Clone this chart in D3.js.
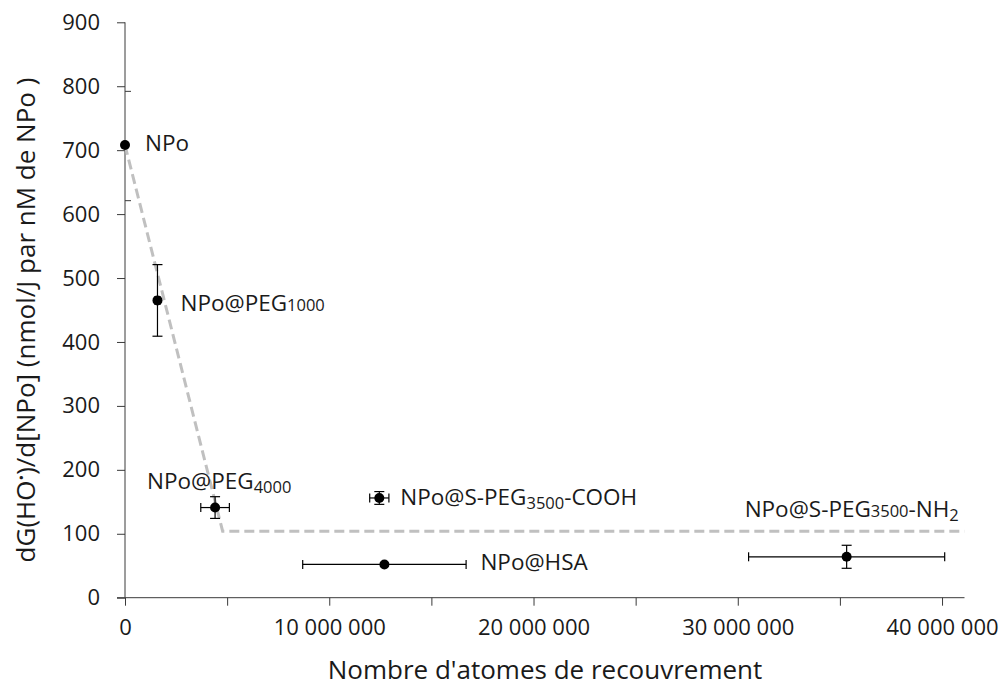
<!DOCTYPE html>
<html>
<head>
<meta charset="utf-8">
<script src="https://cdn.jsdelivr.net/npm/d3@7"></script>
<style>
  html, body { margin: 0; padding: 0; background: #fff; }
  svg { display: block; }
  text { font-family: "Open Sans", "Noto Sans", sans-serif; fill: #1a1a1a; }
</style>
</head>
<body>
<svg id="chart" width="1004" height="686"></svg>
<script>
// ---- data ----
const names = ["NPo", "NPo@PEG1000", "NPo@PEG4000", "NPo@S-PEG3500-COOH", "NPo@HSA", "NPo@S-PEG3500-NH2"];
const xValues = [0, 1.59e6, 4.41e6, 12.45e6, 12.7e6, 35.33e6];
const yValues = [708, 465, 141, 156, 52, 64];
const xErrors = [0, 0.12e6, 0.7e6, 0.47e6, 4.0e6, 4.8e6];
const yErrors = [0, 56, 17, 10, 0, 18];
const trendX = [0, 4.78e6, 41.1e6];
const trendY = [708, 104, 104];
const yTicks = [0, 100, 200, 300, 400, 500, 600, 700, 800, 900];
const xTicks = [0, 5e6, 10e6, 15e6, 20e6, 25e6, 30e6, 35e6, 40e6];
const xLabelTicks = [0, 10e6, 20e6, 30e6, 40e6];
const yMinorTicks = [792, 621];
const xTitle = "Nombre d'atomes de recouvrement";

// label parts: [text, kind] kind: n normal, s small on baseline, sub subscript
const labelParts = [
  [["NPo", "n"]],
  [["NPo@PEG", "n"], ["1000", "s"]],
  [["NPo@PEG", "n"], ["4000", "sub"]],
  [["NPo@S-PEG", "n"], ["3500", "sub"], ["-COOH", "n"]],
  [["NPo@HSA", "n"]],
  [["NPo@S-PEG", "n"], ["3500", "s"], ["-NH", "n"], ["2", "sub"]]
];
const labelOffsets = [[20, 6], [23, 11], [-68, -19], [21, 7], [96, 6], [-102, -40]];

// ---- scales ----
const svg = d3.select("#chart");
const x = d3.scaleLinear().domain([0, 41.1e6]).range([125, 964.5]);
const y = d3.scaleLinear().domain([0, 900]).range([597.7, 22.3]);

const locale = d3.formatLocale({decimal: ",", thousands: "\u00a0", grouping: [3], currency: ["", ""]});
const fmt = locale.format(",d");

const axisColor = "#3a3a3a";

// ---- y axis ----
const yAxis = svg.append("g").attr("transform", `translate(${x(0)},0)`)
  .call(d3.axisLeft(y).tickValues(yTicks).tickSize(8).tickPadding(17).tickFormat(d3.format("d")));
yAxis.select(".domain").attr("stroke", axisColor).attr("d", `M0,${y(900)}V${y(0)}`);
yAxis.selectAll(".tick line").attr("stroke", axisColor);
yAxis.selectAll(".tick text").style("font-size", "22px").attr("fill", "#1a1a1a").attr("font-family", null);

// small secondary ticks to the right
svg.append("g").selectAll("line").data(yMinorTicks).join("line")
  .attr("x1", x(0)).attr("x2", x(0) + 6)
  .attr("y1", d => y(d)).attr("y2", d => y(d))
  .attr("stroke", axisColor);

// ---- x axis ----
const xAxis = svg.append("g").attr("transform", `translate(0,${y(0)})`)
  .call(d3.axisBottom(x).tickValues(xTicks).tickSize(8).tickPadding(14)
    .tickFormat(d => xLabelTicks.includes(d) ? fmt(d) : ""));
xAxis.select(".domain").attr("stroke", axisColor).attr("d", `M${x(0) - 8},0H${x(41.1e6)}`);
xAxis.selectAll(".tick line").attr("stroke", axisColor);
xAxis.selectAll(".tick text").style("font-size", "22px").attr("fill", "#1a1a1a").attr("font-family", null);

// ---- trend dashed line ----
const trend = trendX.map((d, i) => [d, trendY[i]]);
svg.append("path").datum(trend)
  .attr("d", d3.line().x(d => x(d[0])).y(d => y(d[1])))
  .attr("fill", "none").attr("stroke", "#c0c0c0").attr("stroke-width", 3)
  .attr("stroke-dasharray", "10,5");

// ---- error bars ----
const pts = names.map((n, i) => ({n, x: xValues[i], y: yValues[i], ex: xErrors[i], ey: yErrors[i], i}));
const eb = svg.append("g").attr("stroke", "#000").attr("stroke-width", 1.2);
pts.filter(d => d.ex > 0).forEach(d => {
  const cy = y(d.y), x1 = x(d.x - d.ex), x2 = x(d.x + d.ex);
  eb.append("line").attr("x1", x1).attr("x2", x2).attr("y1", cy).attr("y2", cy);
  eb.append("line").attr("x1", x1).attr("x2", x1).attr("y1", cy - 4.5).attr("y2", cy + 4.5);
  eb.append("line").attr("x1", x2).attr("x2", x2).attr("y1", cy - 4.5).attr("y2", cy + 4.5);
});
pts.filter(d => d.ey > 0).forEach(d => {
  const cx = x(d.x), y1 = y(d.y + d.ey), y2 = y(d.y - d.ey);
  eb.append("line").attr("x1", cx).attr("x2", cx).attr("y1", y1).attr("y2", y2);
  eb.append("line").attr("x1", cx - 5).attr("x2", cx + 5).attr("y1", y1).attr("y2", y1);
  eb.append("line").attr("x1", cx - 5).attr("x2", cx + 5).attr("y1", y2).attr("y2", y2);
});

// ---- points ----
svg.append("g").selectAll("circle").data(pts).join("circle")
  .attr("cx", d => x(d.x)).attr("cy", d => y(d.y)).attr("r", 5).attr("fill", "#000");

// ---- labels ----
const lab = svg.append("g");
pts.forEach(d => {
  const t = lab.append("text")
    .attr("x", x(d.x) + labelOffsets[d.i][0])
    .attr("y", y(d.y) + labelOffsets[d.i][1])
    .style("font-size", "22.5px");
  labelParts[d.i].forEach(([s, k]) => {
    const ts = t.append("tspan").text(s);
    if (k === "s") ts.style("font-size", "16.5px");
    if (k === "sub") ts.style("font-size", "16.5px").attr("baseline-shift", "-4");
  });
});

// ---- axis titles ----
svg.append("text").attr("x", 545).attr("y", 679).attr("text-anchor", "middle")
  .style("font-size", "26px").text(xTitle);

const yt = svg.append("text").attr("transform", "translate(35,320) rotate(-90)")
  .attr("text-anchor", "middle").style("font-size", "26px");
yt.append("tspan").text("dG(HO");
yt.append("tspan").text("\u2022").style("font-size", "15px").attr("baseline-shift", "8");
yt.append("tspan").text(")/d[NPo]  (nmol/J par nM de NPo )");
</script>
</body>
</html>
